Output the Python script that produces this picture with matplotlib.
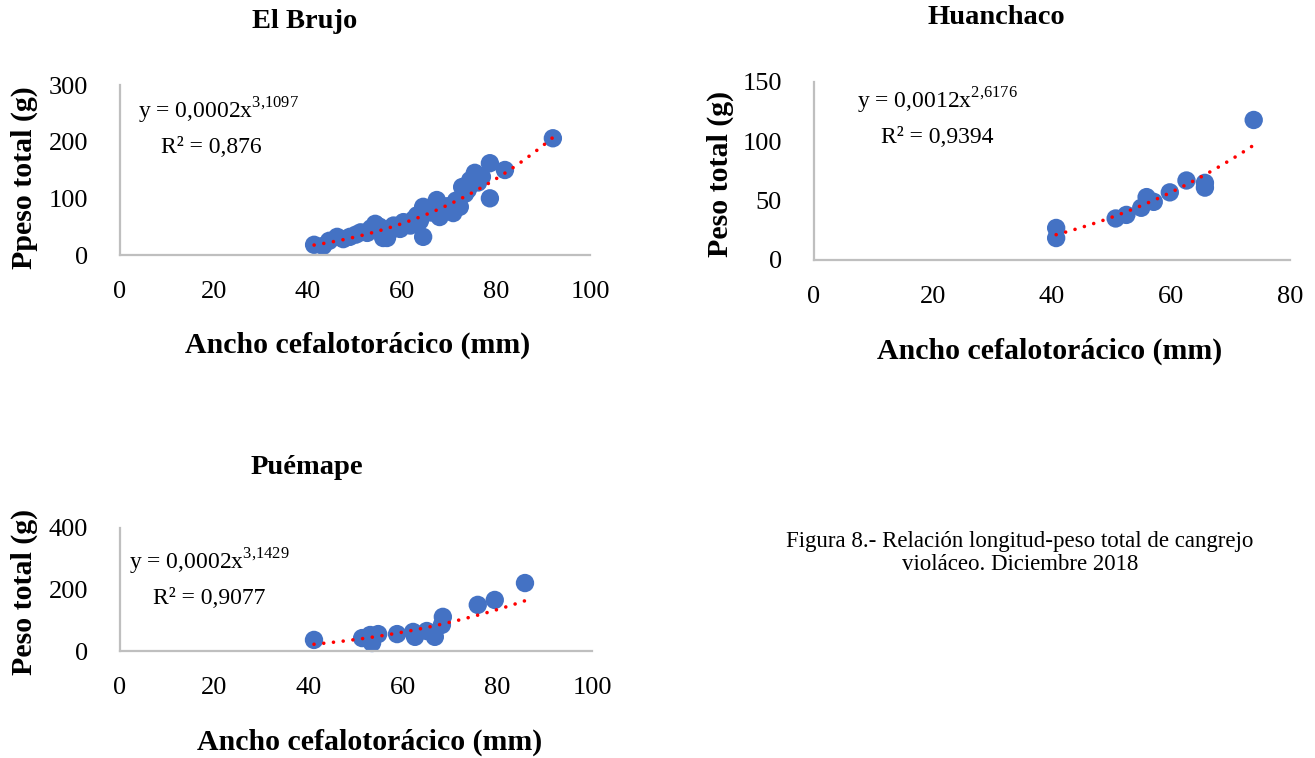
import matplotlib
matplotlib.use("Agg")
import matplotlib.pyplot as plt
import numpy as np

plt.rcParams['font.family'] = ['Liberation Serif', 'DejaVu Serif']
plt.rcParams['mathtext.fontset'] = 'custom'
plt.rcParams['mathtext.rm'] = 'Liberation Serif'

# El Brujo: ancho cefalotoracico (mm) vs peso total (g)
brujo_x = [41.3, 43.2, 44.5, 46.2, 47.5, 48.9, 50.2, 51.2, 52.6, 53.4, 54.3, 55.2, 56.0,
           56.8, 57.4, 58.2, 58.9, 59.6, 60.3, 61.0, 61.8, 62.5, 63.2, 63.8, 64.5, 64.5,
           65.3, 66.2, 67.4, 68.0, 68.8, 69.6, 70.9, 71.5, 72.3, 72.8, 73.4, 74.0, 74.5,
           75.5, 76.2, 77.0, 78.7, 78.7, 81.9, 92.1]
brujo_y = [18, 16, 25, 32, 28, 32, 36, 40, 39, 47, 55, 50, 30,
           30, 42, 52, 49, 46, 58, 56, 52, 63, 70, 60, 85, 32,
           80, 75, 97, 67, 82, 86, 74, 96, 85, 120, 108, 115, 132,
           145, 128, 138, 162, 100, 150, 206]

# Huanchaco
huan_x = [40.7, 40.7, 50.7, 52.5, 55.0, 55.9, 57.1, 59.8, 62.6, 65.7, 65.7, 73.9]
huan_y = [27, 18.5, 35, 38, 44, 53, 49, 57, 67, 65, 61, 118]

# Puemape
pue_x = [41.1, 51.3, 53.0, 53.4, 54.7, 58.7, 62.1, 62.5, 65.0, 66.7, 68.2, 68.4, 75.8, 79.4, 85.8]
pue_y = [36, 42, 52, 26, 55, 55, 62, 46, 65, 46, 85, 111, 150, 166, 221]

W, H = 1315, 758
fig = plt.figure(figsize=(W / 100, H / 100), dpi=100)
fig.patch.set_facecolor('white')


def box(l, r, t, b):
    return [l / W, 1 - b / H, (r - l) / W, (b - t) / H]


def fx(x, y):
    return x / W, 1 - y / H


def panel(rect, xs, ys, xmax, ymax, ystep, eq, r2, eqpos):
    ax = fig.add_axes(rect)
    xs = np.array(xs)
    ys = np.array(ys)
    ax.scatter(xs, ys, s=175, color='#4472C4', edgecolors='none', zorder=2, clip_on=False)
    b, a = np.polyfit(np.log(xs), np.log(ys), 1)
    xt = np.linspace(xs.min(), xs.max(), 200)
    ax.plot(xt, np.exp(a) * xt ** b, color='#FF0000', lw=2.6,
            linestyle=(0, (0.01, 2.7)), dash_capstyle='round', zorder=3, clip_on=False)
    ax.set_xlim(0, xmax)
    ax.set_ylim(0, ymax)
    ax.set_xticks(np.arange(0, xmax + 1, 20))
    ax.set_yticks(np.arange(0, ymax + 1, ystep))
    for s in ['top', 'right']:
        ax.spines[s].set_visible(False)
    for s in ['left', 'bottom']:
        ax.spines[s].set_color('#BFBFBF')
        ax.spines[s].set_linewidth(1.6)
    ax.tick_params(axis='both', length=0, labelsize=19, colors='#000000')
    ax.tick_params(axis='x', pad=19)
    ax.tick_params(axis='y', pad=23)
    ax.text(eqpos[0], eqpos[1], eq, transform=ax.transAxes, fontsize=17, ha='left', va='baseline')
    ax.text(eqpos[0] + 0.05, eqpos[1] - 0.2 * (170 / (rect[3] * H)), r2,
            transform=ax.transAxes, fontsize=17, ha='left', va='baseline')
    return ax


panel(box(120, 590, 85, 255), brujo_x, brujo_y, 100, 300, 100,
      r'y = 0,0002x$^{\mathregular{3{,}1097}}$', 'R² = 0,876', (0.038, 0.8))
panel(box(814, 1290, 82, 260), huan_x, huan_y, 80, 150, 50,
      r'y = 0,0012x$^{\mathregular{2{,}6176}}$', 'R² = 0,9394', (0.09, 0.85))
panel(box(120, 592, 528, 651), pue_x, pue_y, 100, 400, 200,
      r'y = 0,0002x$^{\mathregular{3{,}1429}}$', 'R² = 0,9077', (0.02, 0.66))

title = dict(fontsize=20.5, fontweight='bold', ha='center', va='center')
fig.text(*fx(305, 22), 'El Brujo', **title)
fig.text(*fx(996, 18), 'Huanchaco', **title)
fig.text(*fx(307, 467), 'Puémape', **title)

bold = dict(fontsize=21.5, fontweight='bold', ha='center', va='center')
fig.text(*fx(358, 345), 'Ancho cefalotorácico (mm)', **bold)
fig.text(*fx(1050, 351), 'Ancho cefalotorácico (mm)', **bold)
fig.text(*fx(370, 742), 'Ancho cefalotorácico (mm)', **bold)

fig.text(*fx(24, 178), 'Ppeso total (g)', rotation=90, **bold)
fig.text(*fx(720, 174), 'Peso total (g)', rotation=90, **bold)
fig.text(*fx(24, 592), 'Peso total (g)', rotation=90, **bold)

fig.text(*fx(1020, 553), 'Figura 8.- Relación longitud-peso total de cangrejo\nvioláceo. Diciembre 2018',
         fontsize=16.5, ha='center', va='center', linespacing=1.1)

fig.savefig('out.png', dpi=100)
